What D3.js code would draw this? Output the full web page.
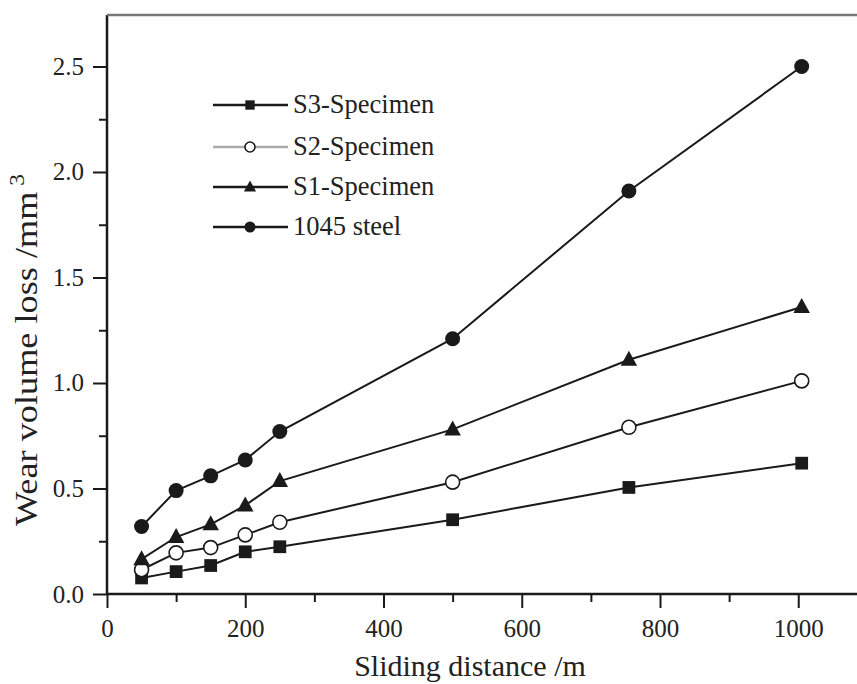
<!DOCTYPE html>
<html>
<head>
<meta charset="utf-8">
<script src="https://cdn.jsdelivr.net/npm/d3@7"></script>
<style>
  body { margin: 0; background: #fff; }
  svg { display: block; }
</style>
</head>
<body>
<svg id="chart" width="857" height="684"></svg>
<script>
// values
const distance = [50, 100, 150, 200, 250, 500, 755, 1005];
const s3Loss = [0.076, 0.106, 0.135, 0.2, 0.224, 0.352, 0.505, 0.62];
const s2Loss = [0.115, 0.195, 0.22, 0.28, 0.34, 0.53, 0.79, 1.01];
const s1Loss = [0.165, 0.27, 0.33, 0.42, 0.535, 0.78, 1.11, 1.36];
const steelLoss = [0.32, 0.49, 0.56, 0.635, 0.77, 1.21, 1.91, 2.5];

const seriesNames = ['S3-Specimen', 'S2-Specimen', 'S1-Specimen', '1045 steel'];
const seriesMarkers = ['square', 'open', 'triangle', 'circle'];
const xTicks = [0, 200, 400, 600, 800, 1000];
const yTicks = [0, 0.5, 1.0, 1.5, 2.0, 2.5];

const width = 857, height = 684;
const margin = { top: 15, right: 0, bottom: 90, left: 107 };

const svg = d3.select('#chart');

const x = d3.scaleLinear()
    .domain([0, 1085])
    .range([margin.left, width - margin.right]);

const y = d3.scaleLinear()
    .domain([0, 2.744])
    .range([height - margin.bottom, margin.top]);

const ink = '#1a1a1a';
const serif = "'Liberation Serif', 'Times New Roman', serif";

// minor ticks
svg.append('g')
    .attr('transform', `translate(0,${y(0)})`)
    .call(d3.axisBottom(x).tickValues(d3.range(100, 1100, 200)).tickSize(8).tickFormat(''))
    .call(g => g.select('.domain').remove())
    .call(g => g.selectAll('line').attr('stroke', ink).attr('stroke-width', 2));

svg.append('g')
    .attr('transform', `translate(${x(0)},0)`)
    .call(d3.axisLeft(y).tickValues([0.25, 0.75, 1.25, 1.75, 2.25]).tickSize(8).tickFormat(''))
    .call(g => g.select('.domain').remove())
    .call(g => g.selectAll('line').attr('stroke', ink).attr('stroke-width', 2));

// major ticks
svg.append('g')
    .attr('transform', `translate(0,${y(0)})`)
    .call(d3.axisBottom(x).tickValues(xTicks).tickSize(14).tickPadding(11).tickFormat(d3.format('d')))
    .call(g => g.select('.domain').remove())
    .call(g => g.selectAll('line').attr('stroke', ink).attr('stroke-width', 2))
    .call(g => g.selectAll('text').attr('fill', '#222')
        .style('font-family', serif).style('font-size', '25px'));

svg.append('g')
    .attr('transform', `translate(${x(0)},0)`)
    .call(d3.axisLeft(y).tickValues(yTicks).tickSize(14).tickPadding(9).tickFormat(d3.format('.1f')))
    .call(g => g.select('.domain').remove())
    .call(g => g.selectAll('line').attr('stroke', ink).attr('stroke-width', 2))
    .call(g => g.selectAll('text').attr('fill', '#222')
        .style('font-family', serif).style('font-size', '25px'));

// axis lines
svg.append('line')
    .attr('x1', x(0)).attr('x2', width)
    .attr('y1', y(0)).attr('y2', y(0))
    .attr('stroke', ink).attr('stroke-width', 2.5);
svg.append('line')
    .attr('x1', x(0)).attr('x2', x(0))
    .attr('y1', y(0)).attr('y2', margin.top)
    .attr('stroke', ink).attr('stroke-width', 2.5);
svg.append('line')
    .attr('x1', x(0)).attr('x2', width)
    .attr('y1', margin.top).attr('y2', margin.top)
    .attr('stroke', '#777').attr('stroke-width', 2.5);

// titles
svg.append('text')
    .attr('x', 470).attr('y', 676)
    .attr('text-anchor', 'middle')
    .attr('fill', '#222')
    .style('font-family', serif)
    .style('font-size', '30px')
    .text('Sliding distance /m');

const yTitle = svg.append('text')
    .attr('transform', 'translate(37,350) rotate(-90) scale(1.17,1)')
    .attr('text-anchor', 'middle')
    .attr('fill', '#222')
    .style('font-family', serif)
    .style('font-size', '31px');
yTitle.append('tspan').text('Wear volume loss /mm');
yTitle.append('tspan').attr('dy', -13).style('font-size', '20px').text(' 3');

// markers
function drawMarker(g, type, cx, cy, s) {
    if (type === 'square') {
        g.append('rect')
            .attr('x', cx - s * 0.85).attr('y', cy - s * 0.85)
            .attr('width', s * 1.7).attr('height', s * 1.7)
            .attr('fill', ink);
    } else if (type === 'open') {
        g.append('circle')
            .attr('cx', cx).attr('cy', cy).attr('r', s - 0.5)
            .attr('fill', '#fff').attr('stroke', ink).attr('stroke-width', 1.6);
    } else if (type === 'triangle') {
        const h = s * 2;
        g.append('path')
            .attr('d', `M${cx},${cy - h * 0.6}L${cx + s * 1.1},${cy + h * 0.4}L${cx - s * 1.1},${cy + h * 0.4}Z`)
            .attr('fill', ink);
    } else {
        g.append('circle')
            .attr('cx', cx).attr('cy', cy).attr('r', s)
            .attr('fill', ink);
    }
}

const allSeries = [s3Loss, s2Loss, s1Loss, steelLoss];

const line = d3.line()
    .x(d => x(d[0]))
    .y(d => y(d[1]));

allSeries.forEach((vals, i) => {
    const pts = distance.map((d, j) => [d, vals[j]]);
    svg.append('path')
        .datum(pts)
        .attr('fill', 'none')
        .attr('stroke', ink)
        .attr('stroke-width', 2)
        .attr('d', line);
});

allSeries.forEach((vals, i) => {
    const g = svg.append('g');
    distance.forEach((d, j) => drawMarker(g, seriesMarkers[i], x(d), y(vals[j]), 7.5));
});

// legend
const legend = svg.append('g');
const legendY = [105, 147, 187, 227];
seriesNames.forEach((name, i) => {
    const ly = legendY[i];
    legend.append('line')
        .attr('x1', 213).attr('x2', 288)
        .attr('y1', ly).attr('y2', ly)
        .attr('stroke', i === 1 ? '#aaa' : ink)
        .attr('stroke-width', 2.5);
    drawMarker(legend, seriesMarkers[i], 250, ly, 5.5);
    legend.append('text')
        .attr('x', 293).attr('y', ly + 8)
        .attr('fill', '#222')
        .style('font-family', serif)
        .style('font-size', '26.5px')
        .text(name);
});
</script>
</body>
</html>
